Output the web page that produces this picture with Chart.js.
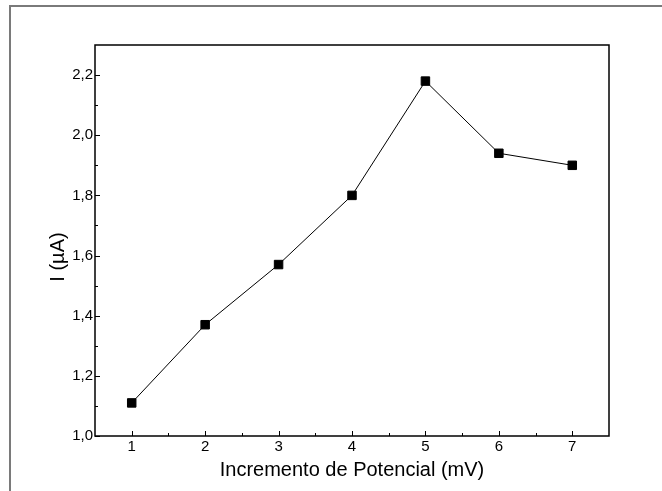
<!DOCTYPE html>
<html>
<head>
<meta charset="utf-8">
<script src="https://cdn.jsdelivr.net/npm/chart.js@4.4.0/dist/chart.umd.min.js"></script>
<style>
  html, body { margin: 0; padding: 0; background: #fff; }
  canvas { display: block; }
</style>
</head>
<body>
<canvas id="grafico" width="662" height="491"></canvas>
<script>
var incremento = [1, 2, 3, 4, 5, 6, 7];
var corrente = [1.11, 1.37, 1.57, 1.80, 2.18, 1.94, 1.90];
var ticksX = [1, 2, 3, 4, 5, 6, 7];
var ticksY = [1.0, 1.2, 1.4, 1.6, 1.8, 2.0, 2.2];
var menoresX = [1.5, 2.5, 3.5, 4.5, 5.5, 6.5];
var menoresY = [1.1, 1.3, 1.5, 1.7, 1.9, 2.1];

var fonte = "'Liberation Sans', Arial, sans-serif";

function virgula(v) { return Number(v).toFixed(1).replace('.', ','); }

// moldura cinza, caixa do gráfico, ticks para dentro e título do eixo Y
var moldura = {
  id: 'moldura',
  beforeDraw: function(chart) {
    var c = chart.ctx;
    c.save();
    c.fillStyle = '#fff';
    c.fillRect(0, 0, chart.width, chart.height);
    c.strokeStyle = '#7a7a7a';
    c.lineWidth = 2;
    c.beginPath();
    c.moveTo(10, chart.height);
    c.lineTo(10, 6);
    c.lineTo(chart.width, 6);
    c.stroke();
    c.restore();
  },
  afterDraw: function(chart) {
    var c = chart.ctx, a = chart.chartArea;
    var sx = chart.scales.x, sy = chart.scales.y;
    c.save();
    c.strokeStyle = '#000';
    c.lineWidth = 1.5;
    c.strokeRect(a.left, a.top, a.right - a.left, a.bottom - a.top);
    c.lineWidth = 1;
    c.beginPath();
    ticksX.forEach(function(v) {
      var px = Math.round(sx.getPixelForValue(v)) + 0.5;
      c.moveTo(px, a.bottom); c.lineTo(px, a.bottom - 5);
    });
    menoresX.forEach(function(v) {
      var px = Math.round(sx.getPixelForValue(v)) + 0.5;
      c.moveTo(px, a.bottom); c.lineTo(px, a.bottom - 3);
    });
    ticksY.forEach(function(v) {
      var py = Math.round(sy.getPixelForValue(v)) + 0.5;
      c.moveTo(a.left, py); c.lineTo(a.left + 5, py);
    });
    menoresY.forEach(function(v) {
      var py = Math.round(sy.getPixelForValue(v)) + 0.5;
      c.moveTo(a.left, py); c.lineTo(a.left + 3, py);
    });
    c.stroke();

    c.translate(58, 257);
    c.rotate(-Math.PI / 2);
    c.font = '20px ' + fonte;
    c.textAlign = 'center';
    c.textBaseline = 'middle';
    c.fillStyle = '#000';
    c.fillText('I (\u00b5A)', 0, 0);
    c.restore();
  }
};

var ctx = document.getElementById('grafico').getContext('2d');
var grafico = new Chart(ctx, {
  type: 'line',
  data: {
    datasets: [{
      data: incremento.map(function(x, i) { return { x: x, y: corrente[i] }; }),
      borderColor: '#000',
      borderWidth: 1,
      tension: 0,
      pointStyle: 'rect',
      pointRadius: 6,
      pointBackgroundColor: '#000',
      pointBorderColor: '#000',
      pointBorderWidth: 1,
      clip: false
    }]
  },
  options: {
    responsive: false,
    animation: false,
    layout: { padding: { top: 45, right: 53, left: 0, bottom: 0 } },
    plugins: {
      legend: { display: false },
      tooltip: { enabled: false }
    },
    scales: {
      x: {
        type: 'linear',
        min: 0.5,
        max: 7.5,
        grid: { display: false, drawTicks: false },
        border: { display: false },
        ticks: {
          padding: 2,
          color: '#000',
          font: { family: fonte, size: 15 },
          callback: function(v) { return String(v); }
        },
        afterBuildTicks: function(s) { s.ticks = ticksX.map(function(v) { return { value: v }; }); },
        afterFit: function(s) { s.height = 55; },
        title: {
          display: true,
          text: 'Incremento de Potencial (mV)',
          color: '#000',
          font: { family: fonte, size: 20 },
          padding: { top: 0, bottom: 9 }
        }
      },
      y: {
        min: 1.0,
        max: 2.3,
        grid: { display: false, drawTicks: false },
        border: { display: false },
        ticks: {
          padding: 2,
          color: '#000',
          font: { family: fonte, size: 15 },
          callback: function(v) { return virgula(v); }
        },
        afterBuildTicks: function(s) { s.ticks = ticksY.map(function(v) { return { value: v }; }); },
        afterFit: function(s) { s.width = 95; }
      }
    }
  },
  plugins: [moldura]
});
</script>
</body>
</html>
